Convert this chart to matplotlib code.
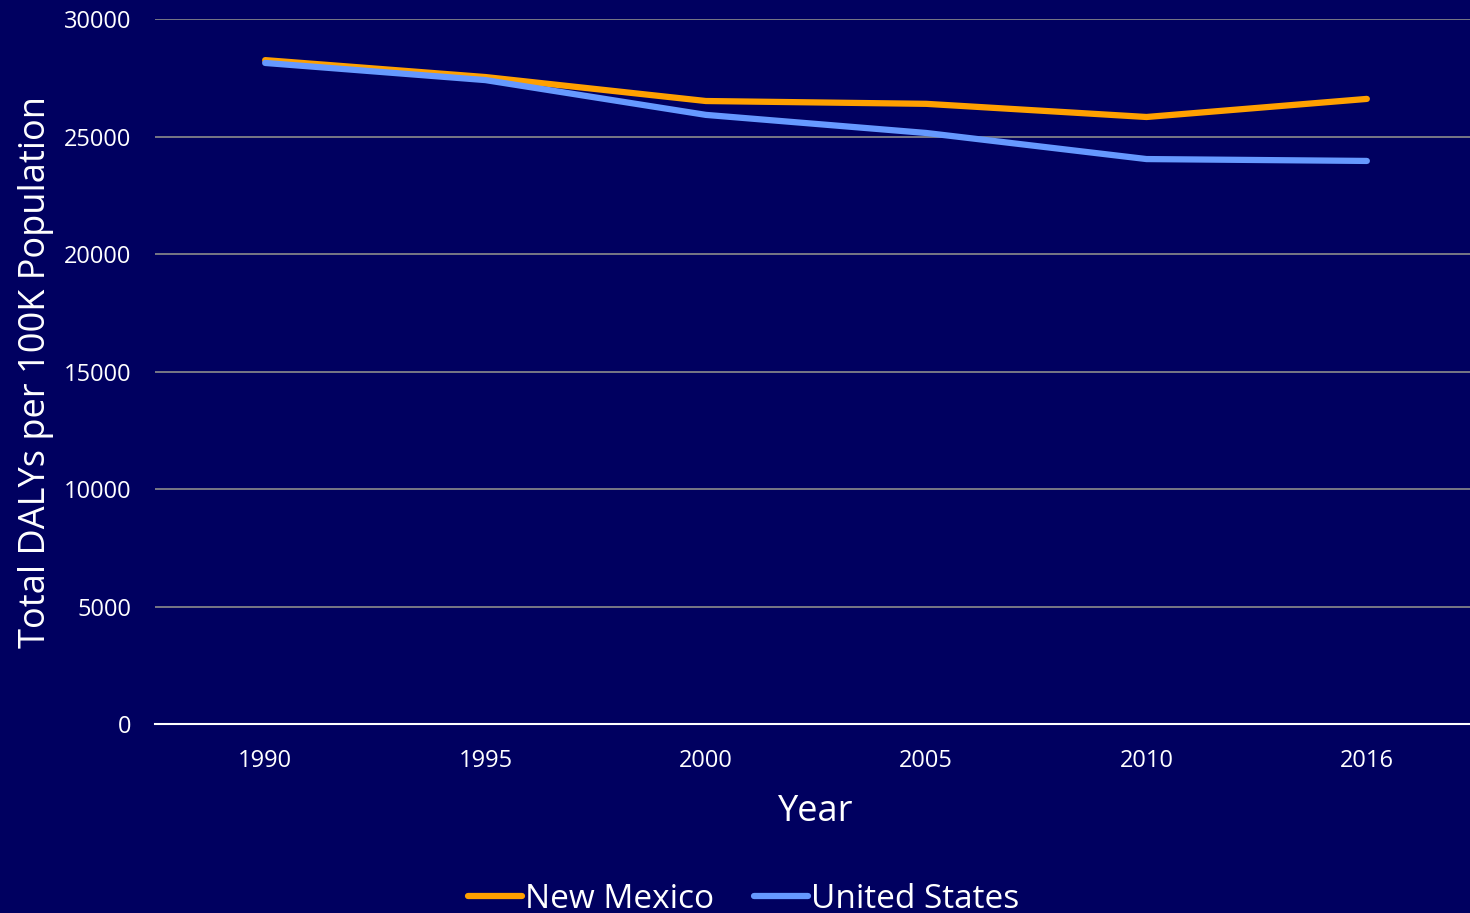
import matplotlib.pyplot as plt

# DALYs per 100K population, by year
years = ["1990", "1995", "2000", "2005", "2010", "2016"]
new_mexico = [28250, 27530, 26510, 26390, 25830, 26600]
united_states = [28130, 27400, 25920, 25150, 24040, 23960]

bg = "#000060"
plt.rcParams["font.family"] = ["Open Sans", "DejaVu Sans"]

fig = plt.figure(figsize=(14.7, 9.13), dpi=100, facecolor=bg)
ax = fig.add_axes([155 / 1470, 1 - 724 / 913, 1322 / 1470, 705 / 913], facecolor=bg)

x = range(len(years))
ax.plot(x, new_mexico, color="#FFA000", lw=4.5, solid_capstyle="round", label="New Mexico", zorder=3)
ax.plot(x, united_states, color="#6699FF", lw=4.5, solid_capstyle="round", label="United States", zorder=3)

ax.set_xlim(-0.5, 5.5)
ax.set_ylim(0, 30000)
ax.set_yticks(range(0, 30001, 5000))
ax.set_xticks(list(x))
ax.set_xticklabels(years)
ax.grid(axis="y", color="#8C8C8C", lw=1.2)
ax.set_axisbelow(True)

for side in ["top", "right", "left"]:
    ax.spines[side].set_visible(False)
ax.spines["bottom"].set_color("white")
ax.spines["bottom"].set_linewidth(1.5)

ax.tick_params(axis="both", length=0, colors="white", labelsize=17)
ax.tick_params(axis="y", pad=17)
ax.tick_params(axis="x", pad=18)

ax.set_xlabel("Year", color="white", fontsize=26, labelpad=15)
ax.set_ylabel("Total DALYs per 100K Population", color="white", fontsize=26, labelpad=7)

leg = fig.legend(loc="center", bbox_to_anchor=(0.506, 1 - 899 / 913), ncol=2, frameon=False,
                 fontsize=24, handlelength=1.6, handletextpad=0.1, columnspacing=1.2)
for t in leg.get_texts():
    t.set_color("white")

fig.savefig("out.png", dpi=100, facecolor=bg)
